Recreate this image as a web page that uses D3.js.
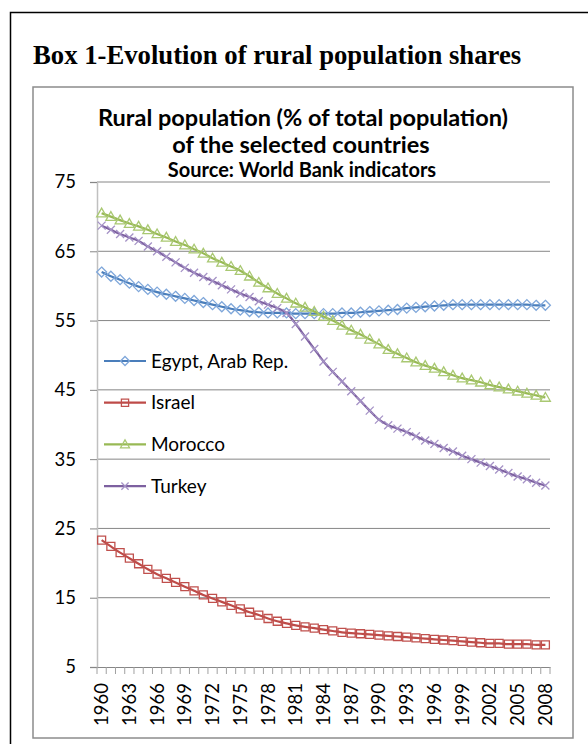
<!DOCTYPE html>
<html>
<head>
<meta charset="utf-8">
<script src="https://cdn.jsdelivr.net/npm/d3@7"></script>
<style>
  body { margin: 0; background: #fff; }
  svg { display: block; }
  .box-title { font-family: "Liberation Serif", serif; font-weight: bold; font-size: 26.7px; }
  .chart-title { font-family: Lato, "Open Sans", sans-serif; font-weight: bold; font-size: 23.5px; fill: #000; }
  .chart-source { font-family: Lato, "Open Sans", sans-serif; font-weight: bold; font-size: 20px; fill: #000; }
  .axis text { font-family: Lato, "Open Sans", sans-serif; font-size: 18.5px; fill: #000; }
  .legend text { font-family: Lato, "Open Sans", sans-serif; font-size: 19px; fill: #000; }
  .grid line { stroke: #868686; stroke-width: 1; }
  .line { fill: none; stroke-width: 2.2; }
  .marker { fill: none; stroke-width: 1.3; }
</style>
</head>
<body>
<svg id="chart" width="588" height="744"></svg>
<script>
// categories
const years = [1960, 1961, 1962, 1963, 1964, 1965, 1966, 1967, 1968, 1969,
  1970, 1971, 1972, 1973, 1974, 1975, 1976, 1977, 1978, 1979,
  1980, 1981, 1982, 1983, 1984, 1985, 1986, 1987, 1988, 1989,
  1990, 1991, 1992, 1993, 1994, 1995, 1996, 1997, 1998, 1999,
  2000, 2001, 2002, 2003, 2004, 2005, 2006, 2007, 2008];

// rural population, % of total
const egypt = [62.0, 61.4, 60.9, 60.4, 59.9, 59.5, 59.1, 58.8, 58.5, 58.2,
  57.9, 57.6, 57.3, 57.0, 56.7, 56.5, 56.3, 56.2, 56.1, 56.1,
  56.1, 56.0, 56.0, 56.0, 56.0, 56.0, 56.1, 56.1, 56.2, 56.3,
  56.4, 56.5, 56.6, 56.8, 56.9, 57.0, 57.1, 57.2, 57.3, 57.3,
  57.3, 57.3, 57.3, 57.3, 57.3, 57.3, 57.3, 57.2, 57.2];
const israel = [23.3, 22.4, 21.5, 20.7, 19.9, 19.1, 18.4, 17.8, 17.2, 16.6,
  16.0, 15.4, 14.9, 14.4, 13.9, 13.4, 12.9, 12.5, 12.0, 11.6,
  11.3, 11.0, 10.8, 10.6, 10.4, 10.2, 10.0, 9.9, 9.8, 9.7,
  9.6, 9.5, 9.4, 9.3, 9.2, 9.1, 9.0, 8.9, 8.8, 8.7,
  8.6, 8.5, 8.4, 8.4, 8.3, 8.3, 8.3, 8.2, 8.2];
const morocco = [70.5, 70.0, 69.5, 69.0, 68.6, 68.1, 67.5, 67.0, 66.4, 65.9,
  65.3, 64.7, 64.0, 63.4, 62.8, 62.2, 61.4, 60.5, 59.7, 58.9,
  58.2, 57.5, 56.9, 56.3, 55.6, 55.0, 54.3, 53.6, 53.0, 52.3,
  51.6, 50.8, 50.2, 49.6, 49.0, 48.5, 48.1, 47.6, 47.1, 46.7,
  46.4, 46.1, 45.7, 45.4, 45.1, 44.8, 44.5, 44.2, 43.9];
const turkey = [68.7, 68.1, 67.5, 67.0, 66.5, 65.7, 65.0, 64.2, 63.4, 62.6,
  61.9, 61.3, 60.7, 60.1, 59.5, 58.9, 58.4, 57.8, 57.3, 56.8,
  56.1, 54.5, 52.7, 50.9, 49.1, 47.6, 46.2, 44.8, 43.4, 42.0,
  40.7, 39.9, 39.4, 38.9, 38.3, 37.7, 37.2, 36.6, 36.1, 35.5,
  35.0, 34.5, 34.0, 33.5, 33.0, 32.5, 32.1, 31.6, 31.2];

const seriesNames = ['Egypt, Arab Rep.', 'Israel', 'Morocco', 'Turkey'];
const seriesValues = [egypt, israel, morocco, turkey];

const yTicks = [5, 15, 25, 35, 45, 55, 65, 75];
const xTickYears = [1960, 1963, 1966, 1969, 1972, 1975, 1978, 1981, 1984,
  1987, 1990, 1993, 1996, 1999, 2002, 2005, 2008];

const lineColors = ['#4a7ebb', '#be4b48', '#98b954', '#7d60a0'];
const markerColors = ['#7fa7da', '#c0504d', '#a9c872', '#a592c6'];
const markerShapes = ['diamond', 'square', 'triangle', 'cross'];

function markerPath(shape, s) {
  if (shape === 'diamond') return `M0,${-s}L${s},0L0,${s}L${-s},0Z`;
  if (shape === 'square') { const h = s * 0.8; return `M${-h},${-h}H${h}V${h}H${-h}Z`; }
  if (shape === 'triangle') return `M0,${-s}L${s},${s * 0.75}H${-s}Z`;
  const c = s * 0.8;
  return `M${-c},${-c}L${c},${c}M${c},${-c}L${-c},${c}`;
}

const svg = d3.select('#chart');
const margin = { top: 182, right: 38, bottom: 77, left: 97 };
const width = 588, height = 744;

// frames
svg.append('rect').attr('x', 10.5).attr('y', 12.5).attr('width', 700).attr('height', 800)
  .attr('fill', 'none').attr('stroke', '#000').attr('stroke-width', 1.5);
svg.append('text').attr('class', 'box-title').attr('x', 33).attr('y', 64)
  .text('Box 1-Evolution of rural population shares');
svg.append('rect').attr('x', 33).attr('y', 87).attr('width', 540).attr('height', 651)
  .attr('fill', '#fff').attr('stroke', '#8c8c8c').attr('stroke-width', 1.5);

svg.append('text').attr('class', 'chart-title').attr('x', 303).attr('y', 126)
  .attr('text-anchor', 'middle').text('Rural population (% of total population)');
svg.append('text').attr('class', 'chart-title').attr('x', 301).attr('y', 153)
  .attr('text-anchor', 'middle').text('of the selected countries');
svg.append('text').attr('class', 'chart-source').attr('x', 302).attr('y', 177)
  .attr('text-anchor', 'middle').text('Source: World Bank indicators');

const x = d3.scaleBand().domain(years).range([margin.left, width - margin.right]);
const y = d3.scaleLinear().domain([5, 75]).range([height - margin.bottom, margin.top]);
const cx = d => x(d) + x.bandwidth() / 2;

// gridlines
svg.append('g').attr('class', 'grid')
  .selectAll('line').data(yTicks.slice(1)).join('line')
  .attr('x1', margin.left).attr('x2', width - margin.right)
  .attr('y1', d => y(d)).attr('y2', d => y(d));

// y axis
const yAxis = svg.append('g').attr('class', 'axis')
  .attr('transform', `translate(${margin.left},0)`)
  .call(d3.axisLeft(y).tickValues(yTicks).tickSize(7).tickPadding(14));
yAxis.select('.domain').attr('stroke', '#c0c0c0').attr('stroke-width', 1.5);
yAxis.selectAll('.tick line').attr('stroke', '#868686');

// x axis: labels at category centres, ticks at category boundaries
const xAxisY = y(5);
const xAxis = svg.append('g').attr('class', 'axis')
  .attr('transform', `translate(0,${xAxisY})`)
  .call(d3.axisBottom(x).tickValues(xTickYears).tickSize(0).tickPadding(0));
xAxis.select('.domain').attr('stroke', '#868686');
xAxis.selectAll('.tick text')
  .attr('transform', 'rotate(-90)')
  .attr('text-anchor', 'end')
  .attr('x', -16).attr('y', 0).attr('dy', '0.35em');
svg.append('g').selectAll('line').data(years.concat([null])).join('line')
  .attr('x1', d => d === null ? width - margin.right : x(d))
  .attr('x2', d => d === null ? width - margin.right : x(d))
  .attr('y1', xAxisY).attr('y2', xAxisY + 7)
  .attr('stroke', '#a0a0a0');

// series
const line = d3.line().curve(d3.curveMonotoneX)
  .x((d, i) => cx(years[i]))
  .y(d => y(d));

seriesValues.forEach((vals, k) => {
  const g = svg.append('g');
  g.append('path').datum(vals).attr('class', 'line')
    .attr('stroke', lineColors[k]).attr('d', line);
  g.selectAll('path.marker').data(vals).join('path')
    .attr('class', 'marker')
    .attr('stroke', markerColors[k])
    .attr('transform', (d, i) => `translate(${cx(years[i])},${y(d)})`)
    .attr('d', markerPath(markerShapes[k], 5));
});

// legend
const legend = svg.append('g').attr('class', 'legend');
seriesNames.forEach((name, k) => {
  const ly = 361 + k * 41.7;
  legend.append('line').attr('x1', 104).attr('x2', 146).attr('y1', ly).attr('y2', ly)
    .attr('stroke', lineColors[k]).attr('stroke-width', 2.2);
  legend.append('path').attr('class', 'marker').attr('stroke', markerColors[k])
    .attr('transform', `translate(125,${ly})`)
    .attr('d', markerPath(markerShapes[k], 4.5));
  legend.append('text').attr('x', 151).attr('y', ly).attr('dy', '0.35em').text(name);
});
</script>
</body>
</html>
